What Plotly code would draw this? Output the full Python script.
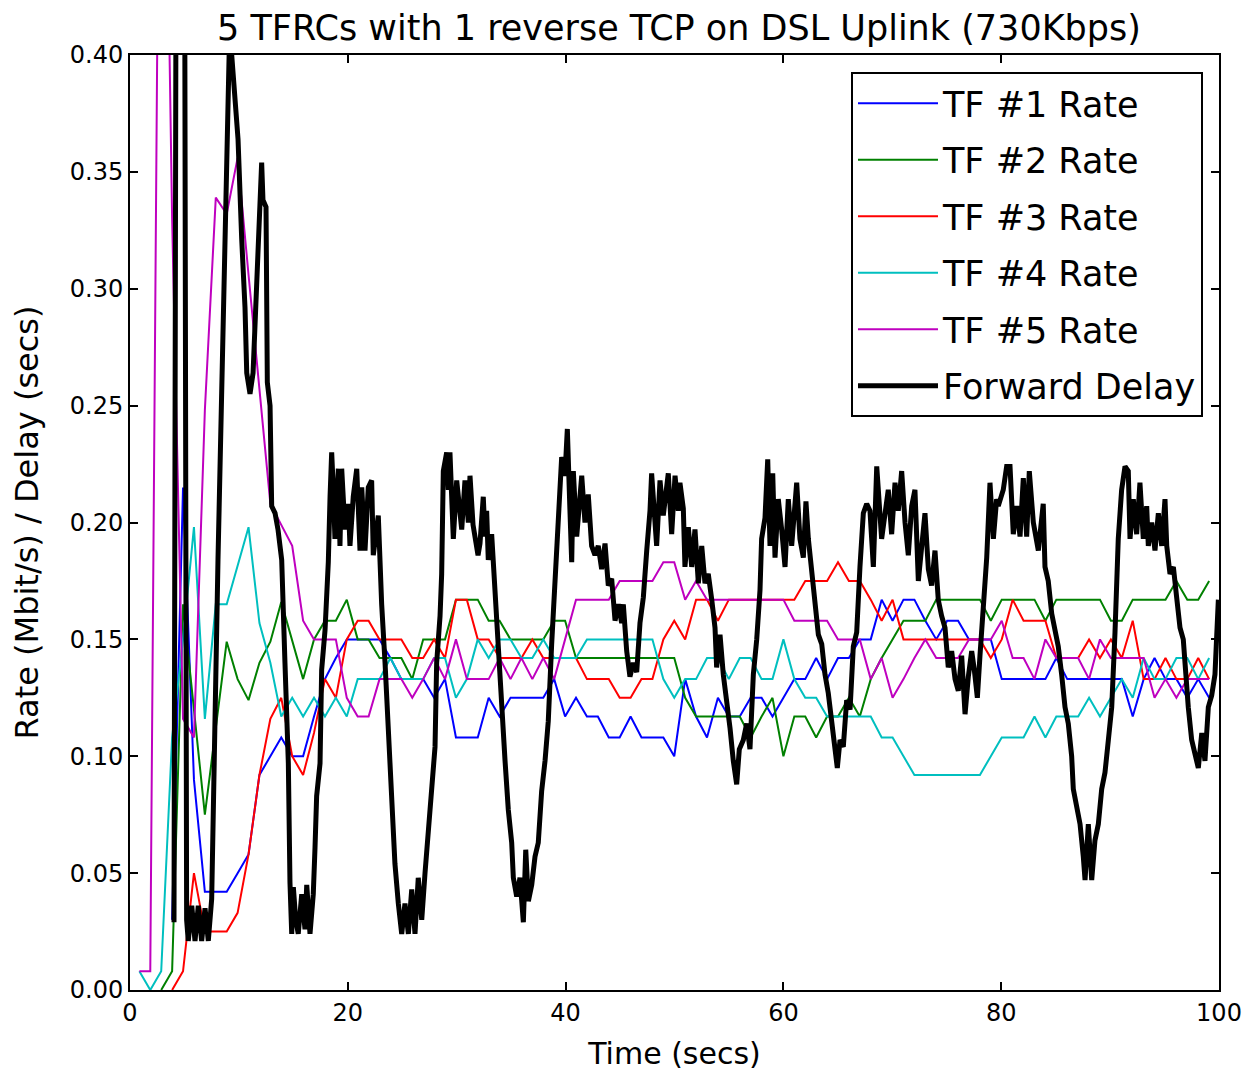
import plotly.graph_objects as go

TITLE = "5 TFRCs with 1 reverse TCP on DSL Uplink (730Kbps)"
X_TICKS = [0, 20, 40, 60, 80, 100]
Y_TICKS = [0.0, 0.05, 0.10, 0.15, 0.20, 0.25, 0.30, 0.35, 0.40]

# rate samples, roughly one per second
RATE_T = [round(0.86 + i * 1.0024, 3) for i in range(99)]

TF1 = [None, None, None, 0.03, 0.215, 0.09, 0.042, 0.042, 0.042, 0.05,
       0.058, 0.092, 0.1, 0.108, 0.1, 0.1, 0.117, 0.133, 0.142, 0.15,
       0.15, 0.15, 0.15, 0.142, 0.133, 0.133, 0.133, 0.125, 0.133, 0.108,
       0.108, 0.108, 0.125, 0.117, 0.125, 0.125, 0.125, 0.125, 0.133, 0.117,
       0.125, 0.117, 0.117, 0.108, 0.108, 0.117, 0.108, 0.108, 0.108, 0.1,
       0.133, 0.117, 0.108, 0.125, 0.117, 0.117, 0.125, 0.125, 0.117, 0.125,
       0.133, 0.133, 0.142, 0.133, 0.142, 0.142, 0.15, 0.15, 0.167, 0.158,
       0.167, 0.167, 0.158, 0.15, 0.158, 0.158, 0.15, 0.15, 0.15, 0.133,
       0.133, 0.133, 0.133, 0.133, 0.142, 0.133, 0.133, 0.133, 0.133, 0.133,
       0.133, 0.117, 0.133, 0.142, 0.133, 0.133, 0.125, 0.133, 0.125]

TF2 = [None, None, 0.0, 0.008, 0.165, 0.12, 0.075, 0.112, 0.149, 0.133,
       0.124, 0.14, 0.149, 0.166, 0.15, 0.133, 0.15, 0.158, 0.158, 0.167,
       0.15, 0.15, 0.142, 0.142, 0.142, 0.133, 0.15, 0.15, 0.15, 0.167,
       0.167, 0.167, 0.158, 0.158, 0.15, 0.15, 0.15, 0.15, 0.158, 0.158,
       0.142, 0.142, 0.142, 0.142, 0.142, 0.142, 0.142, 0.142, 0.142, 0.142,
       0.125, 0.117, 0.117, 0.117, 0.117, 0.117, 0.108, 0.117, 0.125, 0.1,
       0.117, 0.117, 0.108, 0.117, 0.117, 0.125, 0.117, 0.133, 0.142, 0.15,
       0.158, 0.158, 0.158, 0.167, 0.167, 0.167, 0.167, 0.167, 0.158, 0.167,
       0.167, 0.167, 0.167, 0.158, 0.167, 0.167, 0.167, 0.167, 0.167, 0.158,
       0.158, 0.167, 0.167, 0.167, 0.167, 0.175, 0.167, 0.167, 0.175]

TF3 = [None, None, None, 0.0, 0.008, 0.05, 0.025, 0.025, 0.025, 0.033,
       0.058, 0.092, 0.116, 0.125, 0.1, 0.092, 0.11, 0.133, 0.125, 0.15,
       0.158, 0.158, 0.15, 0.15, 0.15, 0.142, 0.142, 0.15, 0.142, 0.167,
       0.167, 0.15, 0.15, 0.142, 0.142, 0.142, 0.15, 0.142, 0.142, 0.142,
       0.142, 0.133, 0.133, 0.133, 0.125, 0.125, 0.133, 0.133, 0.15, 0.158,
       0.15, 0.167, 0.167, 0.158, 0.167, 0.167, 0.167, 0.167, 0.167, 0.167,
       0.167, 0.175, 0.175, 0.175, 0.183, 0.175, 0.175, 0.167, 0.158, 0.167,
       0.15, 0.15, 0.15, 0.15, 0.15, 0.15, 0.15, 0.15, 0.142, 0.15,
       0.167, 0.158, 0.158, 0.158, 0.142, 0.142, 0.142, 0.15, 0.142, 0.15,
       0.142, 0.158, 0.133, 0.133, 0.142, 0.133, 0.133, 0.142, 0.133]

TF4 = [0.008, 0.0, 0.008, 0.108, 0.15, 0.198, 0.116, 0.165, 0.165, 0.181,
       0.198, 0.157, 0.14, 0.117, 0.125, 0.117, 0.125, 0.117, 0.125, 0.117,
       0.133, 0.133, 0.133, 0.142, 0.133, 0.133, 0.133, 0.142, 0.142, 0.125,
       0.133, 0.15, 0.142, 0.15, 0.15, 0.142, 0.142, 0.15, 0.142, 0.142,
       0.142, 0.15, 0.15, 0.15, 0.15, 0.15, 0.15, 0.15, 0.133, 0.125,
       0.133, 0.133, 0.142, 0.142, 0.133, 0.142, 0.142, 0.133, 0.133, 0.15,
       0.133, 0.125, 0.125, 0.117, 0.117, 0.117, 0.117, 0.117, 0.108, 0.108,
       0.1, 0.092, 0.092, 0.092, 0.092, 0.092, 0.092, 0.092, 0.1, 0.108,
       0.108, 0.108, 0.117, 0.108, 0.117, 0.117, 0.117, 0.125, 0.117, 0.125,
       0.133, 0.125, 0.142, 0.133, 0.133, 0.142, 0.142, 0.133, 0.142]

TF5 = [0.008, 0.008, 0.63, 0.33, 0.116, 0.108, 0.248, 0.339, 0.332, 0.356,
       0.306, 0.257, 0.208, 0.199, 0.19, 0.158, 0.15, 0.15, 0.15, 0.125,
       0.117, 0.117, 0.133, 0.133, 0.133, 0.125, 0.133, 0.142, 0.133, 0.15,
       0.133, 0.133, 0.133, 0.142, 0.133, 0.142, 0.133, 0.142, 0.133, 0.15,
       0.167, 0.167, 0.167, 0.167, 0.175, 0.175, 0.175, 0.175, 0.183, 0.183,
       0.167, 0.175, 0.167, 0.167, 0.167, 0.167, 0.167, 0.167, 0.167, 0.167,
       0.158, 0.158, 0.158, 0.158, 0.15, 0.15, 0.15, 0.133, 0.142, 0.125,
       0.133, 0.142, 0.15, 0.142, 0.142, 0.142, 0.15, 0.15, 0.15, 0.158,
       0.142, 0.142, 0.133, 0.15, 0.142, 0.142, 0.142, 0.133, 0.15, 0.142,
       0.142, 0.142, 0.142, 0.125, 0.133, 0.125, 0.133, 0.133, 0.133]

DELAY_T = [4.04, 4.30, 4.95, 5.20, 5.35, 5.67, 5.97, 6.27, 6.58, 6.89,
           7.19, 7.50, 8.08, 9.00, 9.15, 9.34, 9.55, 9.92, 10.26, 10.56,
           10.72, 11.02, 11.30, 11.63, 11.94, 12.09, 12.21, 12.49, 12.61, 12.86,
           13.01, 13.32, 13.59, 13.93, 14.23, 14.54, 14.69, 14.85, 15.00, 15.22,
           15.45, 15.77, 16.07, 16.23, 16.53, 16.83, 16.99, 17.14, 17.45, 17.60,
           17.91, 18.21, 18.37, 18.52, 18.67, 18.82, 19.13, 19.28, 19.44, 19.74,
           20.05, 20.20, 20.50, 20.82, 21.12, 21.28, 21.58, 21.88, 22.19, 22.34,
           22.80, 22.96, 23.11, 23.42, 23.72, 24.03, 24.33, 24.64, 24.95, 25.25,
           25.56, 25.87, 26.17, 26.47, 26.79, 27.09, 27.39, 27.70, 28.01, 28.16,
           28.47, 28.62, 28.77, 29.08, 29.23, 29.38, 29.69, 30.00, 30.46, 30.76,
           31.07, 31.22, 31.50, 31.96, 32.14, 32.44, 32.60, 32.75, 32.90, 33.21,
           33.36, 33.67, 33.82, 34.13, 34.44, 34.74, 35.05, 35.20, 35.51, 35.81,
           36.12, 36.34, 36.58, 36.89, 37.19, 37.49, 37.80, 38.11, 38.41, 38.72,
           39.03, 39.33, 39.64, 39.94, 40.16, 40.40, 40.56, 40.71, 41.02, 41.48,
           41.78, 42.08, 42.39, 42.70, 43.00, 43.31, 43.62, 43.92, 44.23, 44.54,
           44.84, 45.15, 45.30, 45.61, 45.91, 46.22, 46.53, 46.83, 47.14, 47.45,
           47.75, 47.90, 48.21, 48.36, 48.67, 48.97, 49.43, 49.74, 50.05, 50.35,
           50.50, 50.81, 50.96, 51.27, 51.58, 51.88, 52.19, 52.50, 52.80, 53.10,
           53.42, 53.72, 53.87, 54.18, 54.48, 54.79, 55.10, 55.40, 55.71, 55.95,
           56.32, 56.63, 56.93, 57.24, 57.55, 57.85, 58.00, 58.31, 58.56, 58.77,
           59.02, 59.23, 59.53, 59.84, 60.15, 60.45, 60.76, 61.22, 61.52, 61.83,
           62.07, 62.29, 62.60, 62.90, 63.21, 63.52, 63.82, 64.12, 64.43, 64.74,
           64.95, 65.20, 65.50, 65.81, 66.12, 66.42, 66.73, 67.03, 67.34, 67.65,
           67.95, 68.26, 68.57, 69.02, 69.33, 69.63, 69.94, 70.25, 70.55, 70.86,
           71.17, 71.47, 71.78, 72.08, 72.39, 72.70, 73.00, 73.31, 73.61, 73.92,
           74.22, 74.53, 74.84, 75.14, 75.45, 75.76, 76.06, 76.37, 76.68, 76.98,
           77.29, 77.53, 77.81, 78.05, 78.36, 78.67, 78.97, 79.28, 79.58, 79.73,
           80.19, 80.50, 80.81, 81.11, 81.42, 81.73, 82.03, 82.34, 82.58, 82.95,
           83.41, 83.86, 84.02, 84.32, 84.64, 84.94, 85.24, 85.55, 85.86, 86.16,
           86.47, 86.62, 86.93, 87.24, 87.54, 87.70, 88.00, 88.31, 88.61, 88.92,
           89.23, 89.53, 89.84, 90.15, 90.45, 90.75, 91.06, 91.37, 91.67, 91.83,
           92.13, 92.44, 92.74, 93.05, 93.36, 93.51, 93.82, 94.12, 94.43, 94.74,
           95.04, 95.20, 95.50, 95.81, 96.11, 96.42, 96.72, 96.88, 97.18, 97.49,
           97.80, 98.10, 98.42, 98.71, 99.02, 99.33, 99.63, 99.94]

DELAY_V = [0.029, 0.60, 0.60, 0.030, 0.021, 0.036, 0.021, 0.036, 0.021, 0.035,
           0.021, 0.039, 0.184, 0.400, 0.410, 0.400, 0.384, 0.364, 0.321, 0.292,
           0.264, 0.255, 0.264, 0.300, 0.335, 0.354, 0.338, 0.335, 0.260, 0.250,
           0.207, 0.204, 0.197, 0.184, 0.140, 0.097, 0.046, 0.024, 0.044, 0.030,
           0.024, 0.041, 0.026, 0.045, 0.024, 0.041, 0.061, 0.083, 0.097, 0.137,
           0.154, 0.183, 0.211, 0.230, 0.214, 0.193, 0.223, 0.190, 0.223, 0.197,
           0.208, 0.190, 0.211, 0.223, 0.188, 0.215, 0.188, 0.215, 0.218, 0.186,
           0.203, 0.180, 0.165, 0.140, 0.111, 0.083, 0.054, 0.037, 0.024, 0.037,
           0.024, 0.043, 0.024, 0.048, 0.030, 0.050, 0.068, 0.090, 0.104, 0.140,
           0.160, 0.178, 0.222, 0.230, 0.214, 0.230, 0.193, 0.218, 0.197, 0.218,
           0.200, 0.220, 0.199, 0.186, 0.191, 0.211, 0.194, 0.205, 0.184, 0.195,
           0.182, 0.163, 0.148, 0.120, 0.098, 0.077, 0.063, 0.048, 0.040, 0.048,
           0.029, 0.060, 0.038, 0.045, 0.057, 0.063, 0.085, 0.098, 0.115, 0.148,
           0.177, 0.205, 0.228, 0.220, 0.240, 0.205, 0.183, 0.222, 0.194, 0.220,
           0.200, 0.212, 0.190, 0.186, 0.190, 0.180, 0.191, 0.173, 0.176, 0.158,
           0.165, 0.157, 0.165, 0.145, 0.134, 0.140, 0.136, 0.157, 0.168, 0.188,
           0.205, 0.221, 0.201, 0.190, 0.218, 0.203, 0.221, 0.195, 0.220, 0.205,
           0.217, 0.206, 0.181, 0.198, 0.181, 0.197, 0.174, 0.190, 0.174, 0.178,
           0.167, 0.155, 0.138, 0.152, 0.135, 0.124, 0.112, 0.098, 0.088, 0.103,
           0.107, 0.114, 0.103, 0.135, 0.150, 0.171, 0.193, 0.202, 0.227, 0.190,
           0.221, 0.185, 0.210, 0.197, 0.181, 0.210, 0.190, 0.217, 0.193, 0.185,
           0.209, 0.193, 0.178, 0.164, 0.152, 0.148, 0.135, 0.127, 0.115, 0.104,
           0.095, 0.107, 0.104, 0.124, 0.120, 0.147, 0.153, 0.181, 0.204, 0.208,
           0.205, 0.181, 0.224, 0.193, 0.205, 0.214, 0.195, 0.217, 0.205, 0.222,
           0.200, 0.186, 0.207, 0.214, 0.175, 0.190, 0.204, 0.180, 0.173, 0.188,
           0.167, 0.160, 0.155, 0.138, 0.145, 0.133, 0.128, 0.143, 0.118, 0.134,
           0.145, 0.137, 0.125, 0.143, 0.164, 0.185, 0.217, 0.193, 0.210, 0.207,
           0.214, 0.224, 0.224, 0.195, 0.207, 0.194, 0.219, 0.194, 0.222, 0.200,
           0.188, 0.208, 0.181, 0.175, 0.161, 0.155, 0.147, 0.135, 0.121, 0.114,
           0.100, 0.086, 0.078, 0.071, 0.057, 0.047, 0.071, 0.047, 0.064, 0.071,
           0.086, 0.093, 0.107, 0.121, 0.153, 0.193, 0.214, 0.224, 0.222, 0.193,
           0.210, 0.195, 0.217, 0.193, 0.207, 0.190, 0.200, 0.188, 0.204, 0.190,
           0.210, 0.190, 0.178, 0.181, 0.168, 0.155, 0.150, 0.138, 0.121, 0.107,
           0.100, 0.095, 0.110, 0.098, 0.121, 0.126, 0.135, 0.167]

SERIES = [
    ("TF #1 Rate", TF1, "#0000ff"),
    ("TF #2 Rate", TF2, "#008000"),
    ("TF #3 Rate", TF3, "#ff0000"),
    ("TF #4 Rate", TF4, "#00bfbf"),
    ("TF #5 Rate", TF5, "#bf00bf"),
]

FONT = "DejaVu Sans, Liberation Sans, sans-serif"

fig = go.Figure()
for i, (name, vals, color) in enumerate(SERIES):
    fig.add_trace(go.Scatter(x=RATE_T, y=vals, mode="lines", name=name,
                             legendgroup=f"g{i}",
                             line=dict(color=color, width=2),
                             connectgaps=False))
fig.add_trace(go.Scatter(x=DELAY_T, y=DELAY_V, mode="lines",
                         name="Forward Delay", legendgroup="g5",
                         line=dict(color="black", width=5)))

axis_common = dict(showgrid=False, zeroline=False, showline=True,
                   linecolor="black", linewidth=2, mirror="allticks",
                   ticks="inside", ticklen=8, tickwidth=1.5, tickcolor="black",
                   tickfont=dict(family=FONT, size=24, color="black"))

fig.update_layout(
    width=1257, height=1069,
    margin=dict(l=122, r=46, t=47, b=87),
    paper_bgcolor="white", plot_bgcolor="white",
    font=dict(family=FONT, color="black"),
    title=dict(text=TITLE, x=671 / 1257, xref="container", xanchor="center",
               y=1 - 20 / 1069, yref="container", yanchor="middle",
               font=dict(family=FONT, size=35, color="black")),
    legend=dict(x=0.9853, xanchor="right", y=0.9818, yanchor="top",
                bgcolor="white", bordercolor="black", borderwidth=2,
                font=dict(family=FONT, size=35, color="black"),
                tracegroupgap=8, itemwidth=80),
    showlegend=True,
)
fig.update_xaxes(range=[0, 100], tickvals=X_TICKS,
                 title=dict(text="Time (secs)", standoff=17,
                            font=dict(family=FONT, size=30, color="black")),
                 **axis_common)
fig.update_yaxes(range=[0, 0.4], tickvals=Y_TICKS, tickformat=".2f",
                 title=dict(text="Rate (Mbit/s) / Delay (secs)", standoff=24,
                            font=dict(family=FONT, size=32, color="black")),
                 **axis_common)

fig.write_html("out.html")
